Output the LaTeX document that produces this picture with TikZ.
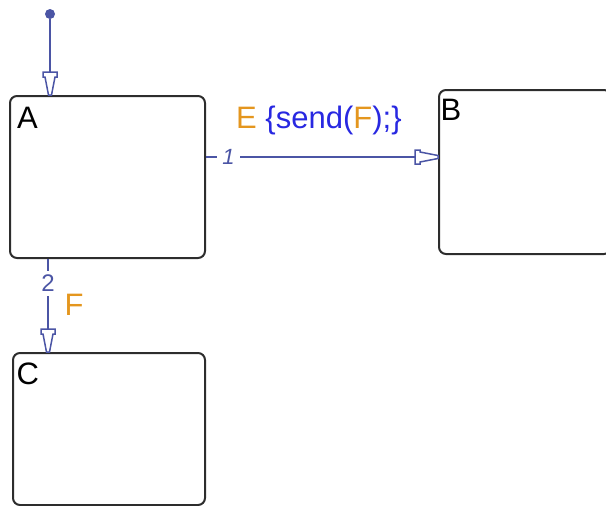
\documentclass[tikz,border=0pt]{standalone}
\usepackage{fontspec}
\setmainfont{Liberation Sans}
\definecolor{sforange}{RGB}{228,150,30}
\definecolor{sfblue}{RGB}{40,40,225}
\definecolor{conn}{RGB}{75,85,165}
\definecolor{boxline}{RGB}{45,45,45}
\pgfdeclarearrow{
  name=SFopen,
  setup code={
    \pgfarrowssettipend{0pt}
    \pgfarrowssetlineend{-22.5pt}
    \pgfarrowssetvisualbackend{-23pt}
    \pgfarrowssetbackend{-23pt}
    \pgfarrowshullpoint{0pt}{0pt}
    \pgfarrowshullpoint{-23pt}{7pt}
    \pgfarrowshullpoint{-23pt}{-7pt}
  },
  drawing code={
    \pgfsetdash{}{0pt}
    \pgfsetfillcolor{white}
    \pgfpathmoveto{\pgfqpoint{0pt}{1.5pt}}
    \pgfpathlineto{\pgfqpoint{-18pt}{5pt}}
    \pgfpathlineto{\pgfqpoint{-18pt}{7pt}}
    \pgfpathlineto{\pgfqpoint{-23pt}{7pt}}
    \pgfpathlineto{\pgfqpoint{-23pt}{-7pt}}
    \pgfpathlineto{\pgfqpoint{-18pt}{-7pt}}
    \pgfpathlineto{\pgfqpoint{-18pt}{-5pt}}
    \pgfpathlineto{\pgfqpoint{0pt}{-1.5pt}}
    \pgfpathclose
    \pgfusepathqfillstroke
  },
  defaults={}
}
\tikzset{
  statebox/.style={rectangle, rounded corners=7pt,
    draw=boxline, line width=2pt, inner sep=0pt, anchor=north west},
  statename/.style={anchor=base west, inner sep=0pt, font=\fontsize{31}{31}\selectfont, text=black},
  trans/.style={draw=conn, line width=1.5pt, -SFopen},
  translab/.style={fill=white, text=conn, inner xsep=5pt, inner ysep=1pt},
  sflabel/.style={anchor=base west, inner sep=0pt, font=\fontsize{31}{31}\selectfont}
}
\begin{document}
\begin{tikzpicture}[x=1pt,y=-1pt]
\clip (0,0) rectangle (606,506);
% states
\node[statebox, minimum width=195pt, minimum height=162pt] (A) at (9,95) {};
\node[statebox, minimum width=172pt, minimum height=164pt] (B) at (438,89) {};
\node[statebox, minimum width=192pt, minimum height=152pt] (C) at (12,352) {};
\node[statename] (labA) at (17,128) {A};
\node[statename] (labB) at (440.5,120) {B};
\node[statename] (labC) at (16.5,384) {C};
% default transition
\node[circle, fill=conn, inner sep=0pt, minimum size=10pt] (init) at (50,14) {};
\draw[trans] (init) -- (A.north -| init);
% transition 1
\coordinate (T1) at (0,157);
\draw[trans] (A.east |- T1) -- node[pos=0.097, translab, font=\fontsize{22}{22}\selectfont\itshape] (n1) {1} (B.west |- T1);
\node[sflabel] (lab1) at (236,128) {{\color{sforange}E} {\color{sfblue}\{send(}{\color{sforange}F}{\color{sfblue});\}}};
% transition 2
\coordinate (T2) at (48,0);
\draw[trans] (A.south -| T2) -- node[pos=0.26, translab, inner xsep=1pt, inner ysep=4pt, font=\fontsize{24}{24}\selectfont] (n2) {2} (C.north -| T2);
\node[sflabel, text=sforange] (lab2) at (64.5,315) {F};
\end{tikzpicture}
\end{document}
